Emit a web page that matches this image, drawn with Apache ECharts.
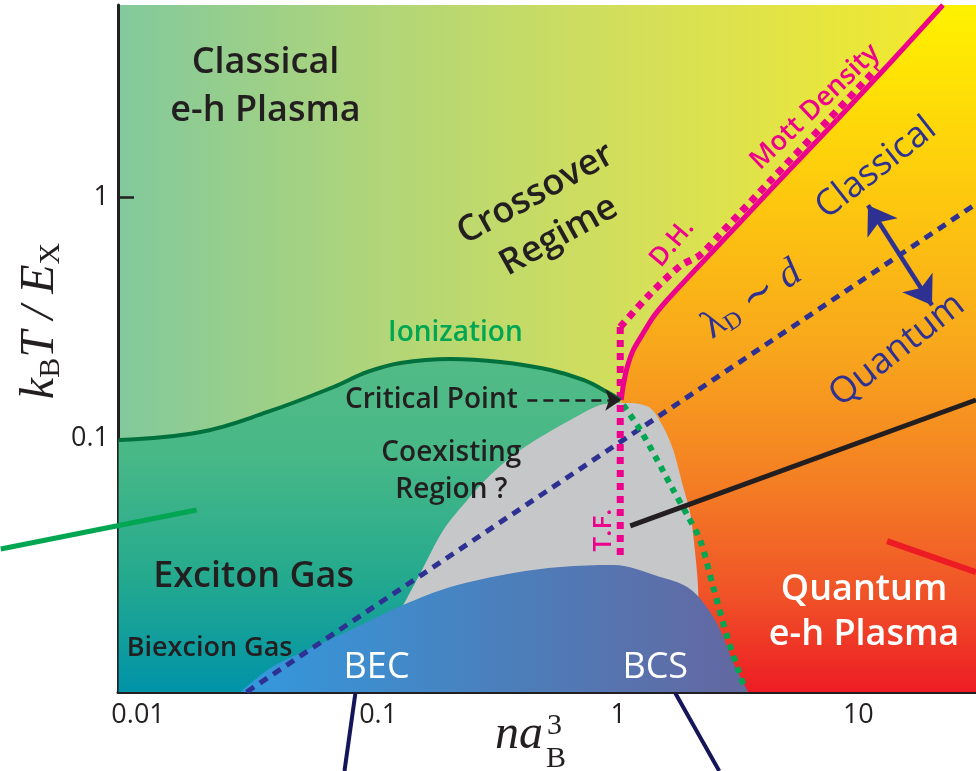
<!DOCTYPE html>
<html>
<head>
<meta charset="utf-8">
<script src="https://cdn.jsdelivr.net/npm/echarts@6/dist/echarts.min.js"></script>
<style>
  html, body { margin: 0; padding: 0; background: #ffffff; }
  #chart { width: 976px; height: 771px; }
</style>
</head>
<body>
<div id="chart"></div>
<script>
// ---- Axes: density n·a_B^3 (x) and temperature k_B T / E_X (y), both logarithmic ----
const xRange = [0.00825, 30.9];
const yRange = [0.01079, 5.845];
const xTicks = [0.01, 0.1, 1, 10];
const xTickLabels = ['0.01', '0.1', '1', '10'];
const yTicks = [0.1, 1];
const yTickLabels = ['0.1', '1'];

// ---- Phase boundaries [n a_B^3, k_B T / E_X] ----
const ionizationLine = [
  [0.0083, 0.1086], [0.01822, 0.1169], [0.0346, 0.1404], [0.0652, 0.1765],
  [0.0902, 0.2025], [0.1238, 0.2199], [0.200, 0.2281], [0.3228, 0.2219],
  [0.5212, 0.2062], [0.715, 0.1882], [0.900, 0.1685], [1.019, 0.1567]
];
const mottLine = [
  [1.029, 0.1567], [1.049, 0.1791], [1.090, 0.2120], [1.155, 0.2477],
  [1.271, 0.2894], [1.398, 0.3352], [1.599, 0.3917], [2.052, 0.5062],
  [2.842, 0.7038], [4.416, 1.103], [7.848, 1.965], [13.55, 3.436], [22.51, 5.845]
];
const debyeHuckelLine = [
  [1.019, 0.3058], [1.333, 0.4064], [1.811, 0.5349], [2.194, 0.5916],
  [2.658, 0.7171], [4.291, 1.165], [7.625, 2.075], [11.96, 3.282]
];
const thomasFermiLine = [[1.019, 0.3058], [1.019, 0.03616]];
const coexistBoundary = [
  [0.1274, 0.02396], [0.1500, 0.03212], [0.1869, 0.04763], [0.2352, 0.06270],
  [0.2934, 0.07882], [0.3911, 0.09913], [0.6314, 0.1305], [0.8830, 0.1511],
  [1.122, 0.1524], [1.359, 0.1456], [1.539, 0.1224], [1.694, 0.0991],
  [1.864, 0.0706], [1.993, 0.0556], [2.091, 0.03855], [2.152, 0.02747], [2.172, 0.01079]
];
const spinodalDotted = [
  [1.049, 0.1497], [1.235, 0.1190], [1.453, 0.0904], [1.694, 0.0687],
  [1.937, 0.0546], [2.194, 0.0434], [2.485, 0.02824], [2.869, 0.01738], [3.378, 0.01099]
];
const condensateDome = [
  [0.02673, 0.01079], [0.03562, 0.01344], [0.04750, 0.01542], [0.07668, 0.01905],
  [0.1274, 0.02396], [0.2000, 0.02824], [0.3656, 0.03211], [0.5737, 0.03392],
  [0.9532, 0.03455], [1.496, 0.03095], [1.937, 0.02824], [2.301, 0.02395],
  [2.658, 0.01905], [2.982, 0.01446], [3.475, 0.01079]
];
const debyeLengthLine = [[0.02831, 0.01079], [30.89, 0.944]];
const blackLine = [[1.122, 0.04941], [30.89, 0.1567]];
const redLine = [[13.17, 0.0430], [30.89, 0.03237]];
const greenLeader = [[0.00268, 0.0400], [0.01753, 0.0572]];
const leaderBEC = [[0.0804, 0.01069], [0.0724, 0.005232]];
const leaderBCS = [[1.727, 0.01069], [2.633, 0.005232]];
const criticalArrow = [[0.4182, 0.1567], [1.029, 0.1567]];
const regimeArrow = [[10.97, 0.9337], [20.26, 0.3735]];

// ---- Annotations [text, n a_B^3, k_B T / E_X] ----
const regionNames = [
  ['Classical\ne-h Plasma', 0.03396, 2.757],
  ['Crossover\nRegime', 0.5064, 0.8537],
  ['Exciton Gas', 0.03027, 0.03094]
];
const smallNames = [
  ['Critical Point', 0.1666, 0.1567],
  ['Coexisting\nRegion ?', 0.2018, 0.0810],
  ['Biexcion Gas', 0.01986, 0.01614]
];
const whiteNames = [
  ['BEC', 0.0985, 0.01344],
  ['BCS', 1.426, 0.01344],
  ['Quantum\ne-h Plasma', 10.56, 0.02246]
];
const lineNames = [
  ['Ionization', 0.2098, 0.2894],
  ['Mott Density', 6.603, 2.296],
  ['D.H.', 1.677, 0.6589],
  ['T.F.', 0.8661, 0.04761]
];
const regimeNames = [
  ['Classical', 11.85, 1.311],
  ['Quantum', 14.49, 0.2477],
  ['{l|λ}{s|D}{t| ∼ }{d|d}', 3.611, 0.3917]
];

// ---- Drawing ----
const SANS = "'Open Sans', 'Noto Sans', sans-serif";
const SERIF = "'Liberation Serif', 'DejaVu Serif', serif";
const INK = '#231f20';
const MAGENTA = '#ec008c';
const NAVY = '#2e3192';

const grad = (x0, y0, x1, y1, stops) =>
  new echarts.graphic.LinearGradient(x0, y0, x1, y1, stops.map(([o, c]) => ({ offset: o, color: c })));

function region(data, fill, z, smooth) {
  return {
    type: 'line', data, z, smooth: smooth, symbol: 'none', silent: true,
    lineStyle: { width: 0 }, areaStyle: { origin: 'start', color: fill, opacity: 1 }
  };
}
function curve(data, color, width, dash, z, opts) {
  return Object.assign({
    type: 'line', data, z, symbol: 'none', silent: true, smooth: false,
    lineStyle: { color, width, type: dash || 'solid', cap: 'butt', join: 'round' }
  }, opts || {});
}
// straight segments that may run past the plot frame
function segment(coords, color, width, z) {
  return {
    type: 'lines', coordinateSystem: 'cartesian2d', z, silent: true, clip: false,
    symbol: 'none', lineStyle: { color, width, opacity: 1, curveness: 0 },
    data: [{ coords }]
  };
}
function arrow(coords, color, width, dash, ends, size, z) {
  return {
    type: 'lines', coordinateSystem: 'cartesian2d', z, silent: true,
    symbol: ends, symbolSize: size,
    lineStyle: { color, width, type: dash, opacity: 1, curveness: 0 },
    data: [{ coords }]
  };
}
function textLayer(items, style, z) {
  return {
    type: 'scatter', z, silent: true, symbolSize: 1,
    itemStyle: { color: 'rgba(0,0,0,0)', opacity: 1 },
    data: items.map(([t, x, y]) => ({
      value: [x, y],
      label: Object.assign({ show: true, position: 'inside', formatter: t, opacity: 1 }, style(t))
    }))
  };
}

const rotations = {
  'Crossover\nRegime': 29, 'Mott Density': 44, 'D.H.': 50, 'T.F.': 90,
  'Classical': 38, 'Quantum': 38, '{l|λ}{s|D}{t| ∼ }{d|d}': 33.7
};

const chart = echarts.init(document.getElementById('chart'));
chart.setOption({
  animation: false,
  textStyle: { fontFamily: SANS },
  grid: {
    left: 118, right: 0, top: 5, bottom: 79, show: true, borderWidth: 0,
    containLabel: false, outerBoundsMode: 'none',
    backgroundColor: grad(0, 0, 1, 0, [[0, '#82c99c'], [0.3, '#b0d579'], [0.6, '#d4df5a'], [1, '#f6ea28']])
  },
  xAxis: {
    type: 'log', logBase: 10, min: xRange[0], max: xRange[1],
    axisLine: { show: true, onZero: false, lineStyle: { color: INK, width: 3 } },
    axisTick: { show: true, inside: true, length: 15, customValues: xTicks, lineStyle: { color: INK, width: 2.5 } },
    axisLabel: {
      customValues: xTicks, margin: 10, fontSize: 27, color: INK, fontFamily: SANS,
      formatter: v => xTickLabels[xTicks.findIndex(t => Math.abs(Math.log10(t) - Math.log10(v)) < 1e-6)]
    },
    splitLine: { show: false }, minorTick: { show: false }, minorSplitLine: { show: false }
  },
  yAxis: {
    type: 'log', logBase: 10, min: yRange[0], max: yRange[1],
    axisLine: { show: true, onZero: false, lineStyle: { color: INK, width: 3 } },
    axisTick: { show: true, inside: true, length: 16, customValues: yTicks, lineStyle: { color: INK, width: 2.5 } },
    axisLabel: {
      customValues: yTicks, margin: 9, fontSize: 27, color: INK, fontFamily: SANS,
      formatter: v => {
        const i = yTicks.findIndex(t => Math.abs(Math.log10(t) - Math.log10(v)) < 1e-6);
        return i === 0 ? '{up|' + yTickLabels[i] + '}' : yTickLabels[i];
      },
      rich: { up: { fontSize: 27, color: INK, fontFamily: SANS, padding: [0, 0, 22, 0] } }
    },
    splitLine: { show: false }, minorTick: { show: false }, minorSplitLine: { show: false }
  },
  graphic: [
    {
      type: 'text', x: 40, y: 321, rotation: Math.PI / 2, z: 30, silent: true,
      style: {
        text: '{i|k}{s|B}{i|T / E}{s|X}', align: 'center', verticalAlign: 'middle',
        rich: {
          i: { fontFamily: SERIF, fontStyle: 'italic', fontSize: 48, lineHeight: 52, fill: INK },
          s: { fontFamily: SERIF, fontSize: 30, lineHeight: 24, verticalAlign: 'bottom', fill: INK }
        }
      }
    },
    {
      type: 'text', x: 543, y: 735, z: 30, silent: true,
      style: { text: 'na', align: 'right', verticalAlign: 'middle', fontFamily: SERIF, fontStyle: 'italic', fontSize: 48, fill: INK }
    },
    {
      type: 'text', x: 547, y: 726, z: 30, silent: true,
      style: { text: '3', align: 'left', verticalAlign: 'middle', fontFamily: SERIF, fontSize: 30, fill: INK }
    },
    {
      type: 'text', x: 546, y: 759, z: 30, silent: true,
      style: { text: 'B', align: 'left', verticalAlign: 'middle', fontFamily: SERIF, fontSize: 30, fill: INK }
    }
  ],
  series: [
    // filled phases
    region(mottLine.concat([[xRange[1], yRange[1]]]),
      grad(0, 0, 0, 1, [[0, '#fff200'], [0.28, '#fdc80e'], [0.5, '#f8a71c'], [0.7, '#f47d24'], [0.86, '#f05228'], [1, '#ed1c24']]), 1, 0.2),
    region(ionizationLine,
      grad(0, 0, 0, 1, [[0, '#52bb86'], [0.3, '#47b887'], [0.65, '#25aa8e'], [1, '#0093a8']]), 2, 0.4),
    region(coexistBoundary, '#c6c7c9', 3, 0.3),
    region(condensateDome,
      grad(0, 0, 1, 0, [[0, '#3399dd'], [0.5, '#4a80bd'], [1, '#6467a0']]), 4, 0.35),
    // boundary lines
    curve(debyeLengthLine, NAVY, 5, [9, 7], 5),
    curve(spinodalDotted, '#00a651', 6, [6, 6], 6, { smooth: 0.3 }),
    curve(blackLine, INK, 5, 'solid', 6),
    curve(redLine, '#ed1c24', 6, 'solid', 6),
    segment(greenLeader, '#00a651', 5, 6),
    segment(leaderBEC, '#15155a', 4, 6),
    segment(leaderBCS, '#15155a', 4, 6),
    curve(thomasFermiLine, MAGENTA, 7, [7, 6], 7),
    curve(debyeHuckelLine, MAGENTA, 7, [7, 6], 7, { smooth: 0.3 }),
    curve(mottLine, MAGENTA, 5, 'solid', 8, { smooth: 0.2 }),
    curve(ionizationLine, '#00703c', 4, 'solid', 8, { smooth: 0.4 }),
    arrow(criticalArrow, INK, 2.5, [10, 6], ['none', 'arrow'], 16, 9),
    arrow(regimeArrow, NAVY, 4.5, 'solid', ['arrow', 'arrow'], 27, 9),
    // annotations
    textLayer(regionNames, t => ({
      fontSize: 36, fontWeight: 600, color: INK, lineHeight: 48,
      rotate: rotations[t] || 0
    }), 20),
    textLayer(smallNames, t => ({
      fontSize: t === 'Biexcion Gas' ? 27 : 28, fontWeight: 600, color: INK, lineHeight: 37
    }), 20),
    textLayer(whiteNames, t => ({
      fontSize: 36, fontWeight: t === 'Quantum\ne-h Plasma' ? 600 : 500, color: '#ffffff', lineHeight: 45
    }), 20),
    textLayer(lineNames, t => ({
      fontSize: t === 'Ionization' ? 28 : (t === 'Mott Density' ? 27 : 26),
      fontWeight: 600, color: t === 'Ionization' ? '#00a651' : MAGENTA,
      rotate: rotations[t] || 0
    }), 20),
    textLayer(regimeNames, t => ({
      fontSize: 36, fontWeight: 400, color: NAVY, rotate: rotations[t] || 0,
      rich: {
        l: { fontFamily: SERIF, fontSize: 40, color: NAVY },
        s: { fontFamily: SERIF, fontSize: 24, color: NAVY, verticalAlign: 'bottom', lineHeight: 30 },
        t: { fontFamily: SERIF, fontSize: 40, color: NAVY },
        d: { fontFamily: SERIF, fontStyle: 'italic', fontSize: 40, color: NAVY }
      }
    }), 20)
  ]
});
</script>
</body>
</html>
